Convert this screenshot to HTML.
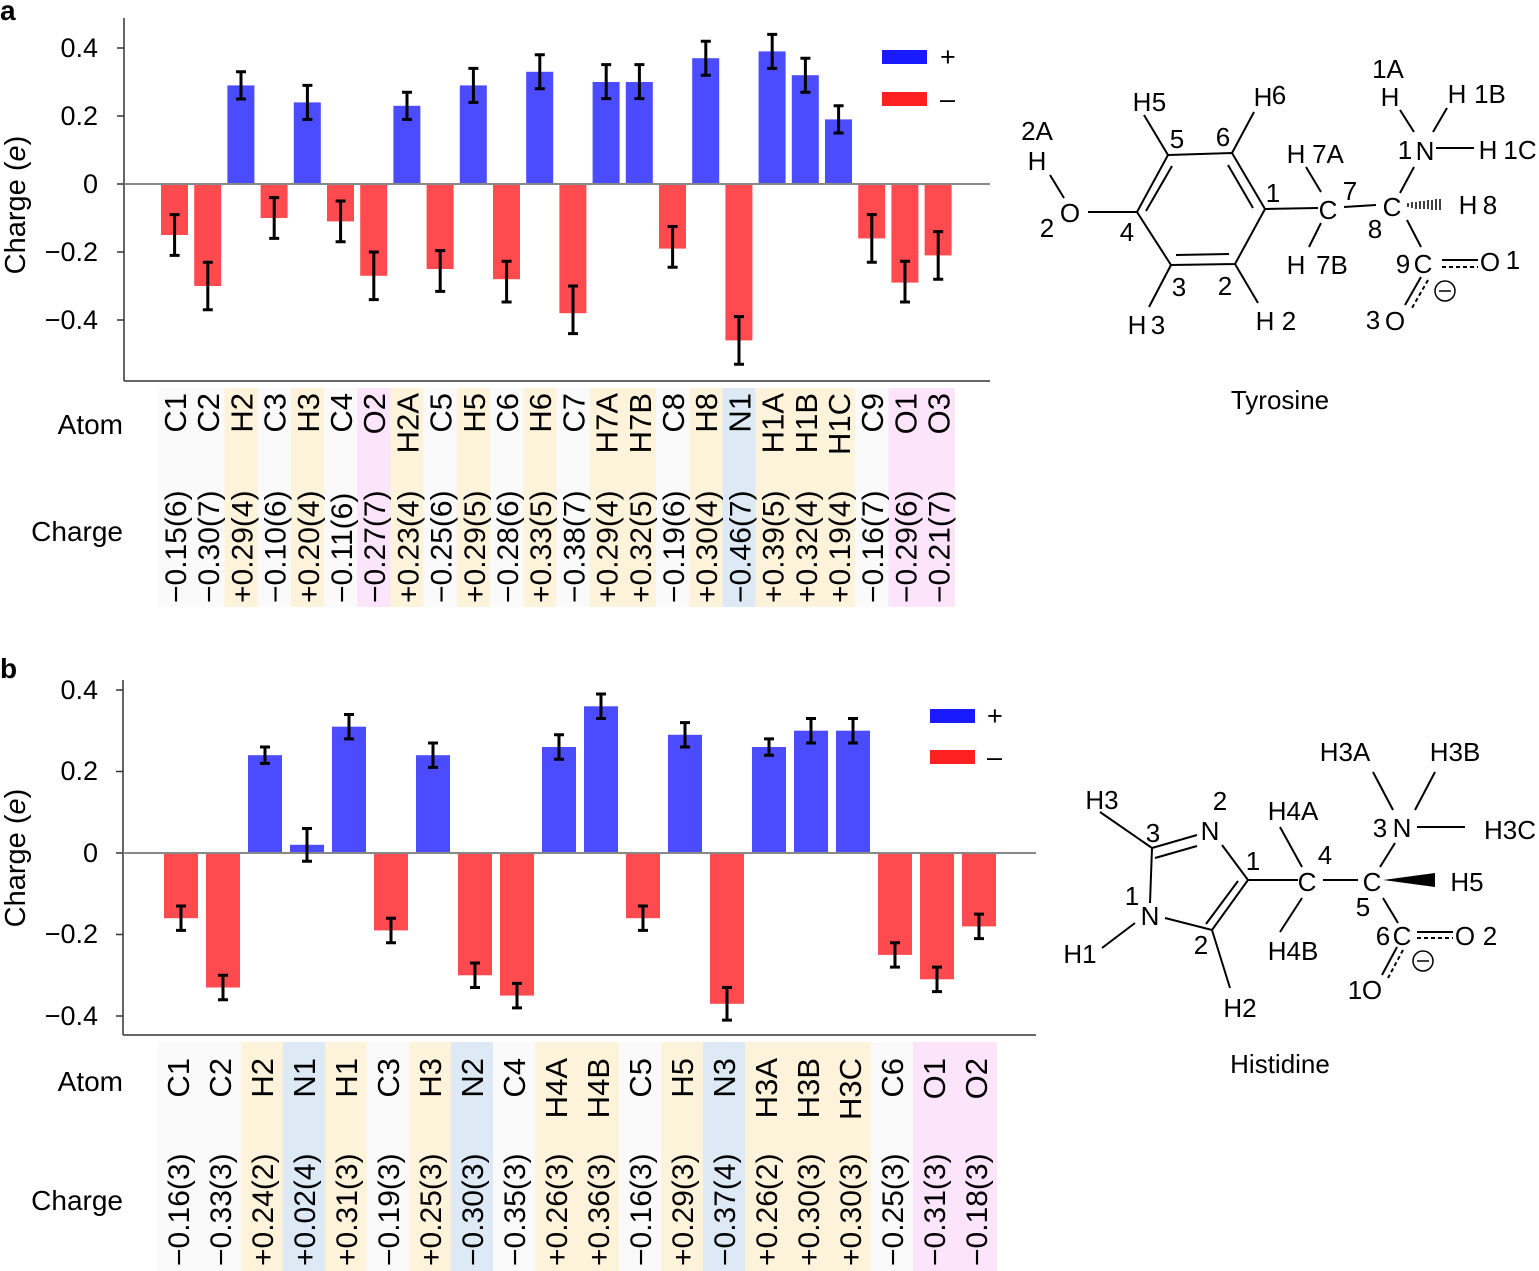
<!DOCTYPE html>
<html><head><meta charset="utf-8"><style>
html,body{margin:0;padding:0;background:#fff;}
svg{display:block;font-family:"Liberation Sans",Arial,sans-serif;}
</style></head><body>
<svg width="1539" height="1271" viewBox="0 0 1539 1271" xmlns="http://www.w3.org/2000/svg">
<text x="0" y="20" font-size="28" font-weight="bold">a</text>
<text x="0" y="678" font-size="28" font-weight="bold">b</text>

<!-- ================= PANEL A ================= -->
<g font-size="27">
<text x="15" y="205" transform="rotate(-90 15 205)" text-anchor="middle" dy="10" font-size="29">Charge (<tspan font-style="italic">e</tspan>)</text>
<g text-anchor="end">
<text x="98" y="57">0.4</text><text x="98" y="125">0.2</text><text x="98" y="193">0</text><text x="98" y="261">−0.2</text><text x="98" y="329">−0.4</text>
</g>
</g>
<g stroke="#333" stroke-width="1.5">
<line x1="124" y1="18" x2="124" y2="381"/><line x1="124" y1="381" x2="990" y2="381"/>
<line x1="117" y1="48" x2="124" y2="48"/><line x1="117" y1="116" x2="124" y2="116"/><line x1="117" y1="184" x2="124" y2="184"/><line x1="117" y1="252" x2="124" y2="252"/><line x1="117" y1="320" x2="124" y2="320"/>
</g>
<g>
<rect x="158" y="388" width="66.4" height="219" fill="#fafafa"/>
<rect x="224.4" y="388" width="33.2" height="219" fill="#fdf3da"/>
<rect x="257.6" y="388" width="33.2" height="219" fill="#fafafa"/>
<rect x="290.8" y="388" width="33.2" height="219" fill="#fdf3da"/>
<rect x="324" y="388" width="33.2" height="219" fill="#fafafa"/>
<rect x="357.2" y="388" width="33.2" height="219" fill="#fce4fb"/>
<rect x="390.4" y="388" width="33.2" height="219" fill="#fdf3da"/>
<rect x="423.6" y="388" width="33.2" height="219" fill="#fafafa"/>
<rect x="456.8" y="388" width="33.2" height="219" fill="#fdf3da"/>
<rect x="490" y="388" width="33.2" height="219" fill="#fafafa"/>
<rect x="523.2" y="388" width="33.2" height="219" fill="#fdf3da"/>
<rect x="556.4" y="388" width="33.2" height="219" fill="#fafafa"/>
<rect x="589.6" y="388" width="66.4" height="219" fill="#fdf3da"/>
<rect x="656" y="388" width="33.2" height="219" fill="#fafafa"/>
<rect x="689.2" y="388" width="33.2" height="219" fill="#fdf3da"/>
<rect x="722.4" y="388" width="33.2" height="219" fill="#dde9f5"/>
<rect x="755.6" y="388" width="99.6" height="219" fill="#fdf3da"/>
<rect x="855.2" y="388" width="33.2" height="219" fill="#fafafa"/>
<rect x="888.4" y="388" width="66.4" height="219" fill="#fce4fb"/>
</g>
<g fill="#ff4b4f">
<rect x="161" y="184" width="27" height="51"/>
<rect x="194.2" y="184" width="27" height="102"/>
<rect x="260.6" y="184" width="27" height="34"/>
<rect x="327" y="184" width="27" height="37.4"/>
<rect x="360.2" y="184" width="27" height="91.8"/>
<rect x="426.6" y="184" width="27" height="85"/>
<rect x="493" y="184" width="27" height="95.2"/>
<rect x="559.4" y="184" width="27" height="129.2"/>
<rect x="659" y="184" width="27" height="64.6"/>
<rect x="725.4" y="184" width="27" height="156.4"/>
<rect x="858.2" y="184" width="27" height="54.4"/>
<rect x="891.4" y="184" width="27" height="98.6"/>
<rect x="924.6" y="184" width="27" height="71.4"/>
</g>
<g fill="#4b4bff">
<rect x="227.4" y="85.4" width="27" height="98.6"/>
<rect x="293.8" y="102.4" width="27" height="81.6"/>
<rect x="393.4" y="105.8" width="27" height="78.2"/>
<rect x="459.8" y="85.4" width="27" height="98.6"/>
<rect x="526.2" y="71.8" width="27" height="112.2"/>
<rect x="592.6" y="82" width="27" height="102"/>
<rect x="625.8" y="82" width="27" height="102"/>
<rect x="692.2" y="58.2" width="27" height="125.8"/>
<rect x="758.6" y="51.4" width="27" height="132.6"/>
<rect x="791.8" y="75.2" width="27" height="108.8"/>
<rect x="825" y="119.4" width="27" height="64.6"/>
</g>
<line x1="124" y1="184" x2="990" y2="184" stroke="#888" stroke-width="2"/>
<g stroke="#000" stroke-width="3" fill="none">
<path d="M174.6 214.6V255.4M169.6 214.6h10M169.6 255.4h10"/>
<path d="M207.8 262.2V309.8M202.8 262.2h10M202.8 309.8h10"/>
<path d="M241 71.8V99M236 71.8h10M236 99h10"/>
<path d="M274.2 197.6V238.4M269.2 197.6h10M269.2 238.4h10"/>
<path d="M307.4 85.4V119.4M302.4 85.4h10M302.4 119.4h10"/>
<path d="M340.6 201V241.8M335.6 201h10M335.6 241.8h10"/>
<path d="M373.8 252V299.6M368.8 252h10M368.8 299.6h10"/>
<path d="M407 92.2V119.4M402 92.2h10M402 119.4h10"/>
<path d="M440.2 250.6V291.4M435.2 250.6h10M435.2 291.4h10"/>
<path d="M473.4 68.4V102.4M468.4 68.4h10M468.4 102.4h10"/>
<path d="M506.6 261.2V302M501.6 261.2h10M501.6 302h10"/>
<path d="M539.8 54.8V88.8M534.8 54.8h10M534.8 88.8h10"/>
<path d="M573 286V333.6M568 286h10M568 333.6h10"/>
<path d="M606.2 64.6V98.6M601.2 64.6h10M601.2 98.6h10"/>
<path d="M639.4 64.6V98.6M634.4 64.6h10M634.4 98.6h10"/>
<path d="M672.6 226.5V267.3M667.6 226.5h10M667.6 267.3h10"/>
<path d="M705.8 41.2V75.2M700.8 41.2h10M700.8 75.2h10"/>
<path d="M739 316.6V364.2M734 316.6h10M734 364.2h10"/>
<path d="M772.2 34.4V68.4M767.2 34.4h10M767.2 68.4h10"/>
<path d="M805.4 58.2V92.2M800.4 58.2h10M800.4 92.2h10"/>
<path d="M838.6 105.8V133M833.6 105.8h10M833.6 133h10"/>
<path d="M871.8 214.6V262.2M866.8 214.6h10M866.8 262.2h10"/>
<path d="M905 261.2V302M900 261.2h10M900 302h10"/>
<path d="M938.2 231.6V279.2M933.2 231.6h10M933.2 279.2h10"/>
</g>
<rect x="882" y="50" width="45" height="14" fill="#1a1aff"/>
<rect x="882" y="92" width="45" height="14" fill="#ff2020"/>
<text x="940" y="66" font-size="27">+</text>
<text x="940" y="108" font-size="27">–</text>
<g font-size="28">
<text x="123" y="434" text-anchor="end">Atom</text>
<text x="123" y="541" text-anchor="end">Charge</text>
</g>
<g font-size="31" text-anchor="end">
<text transform="translate(186 393) rotate(-90)">C1</text>
<text transform="translate(219.2 393) rotate(-90)">C2</text>
<text transform="translate(252.4 393) rotate(-90)">H2</text>
<text transform="translate(285.6 393) rotate(-90)">C3</text>
<text transform="translate(318.8 393) rotate(-90)">H3</text>
<text transform="translate(352 393) rotate(-90)">C4</text>
<text transform="translate(385.2 393) rotate(-90)">O2</text>
<text transform="translate(418.4 393) rotate(-90)">H2A</text>
<text transform="translate(451.6 393) rotate(-90)">C5</text>
<text transform="translate(484.8 393) rotate(-90)">H5</text>
<text transform="translate(518 393) rotate(-90)">C6</text>
<text transform="translate(551.2 393) rotate(-90)">H6</text>
<text transform="translate(584.4 393) rotate(-90)">C7</text>
<text transform="translate(617.6 393) rotate(-90)">H7A</text>
<text transform="translate(650.8 393) rotate(-90)">H7B</text>
<text transform="translate(684 393) rotate(-90)">C8</text>
<text transform="translate(717.2 393) rotate(-90)">H8</text>
<text transform="translate(750.4 393) rotate(-90)">N1</text>
<text transform="translate(783.6 393) rotate(-90)">H1A</text>
<text transform="translate(816.8 393) rotate(-90)">H1B</text>
<text transform="translate(850 393) rotate(-90)">H1C</text>
<text transform="translate(883.2 393) rotate(-90)">C9</text>
<text transform="translate(916.4 393) rotate(-90)">O1</text>
<text transform="translate(949.6 393) rotate(-90)">O3</text>
</g>
<g font-size="30">
<text transform="translate(186 603) rotate(-90)">−0.15(6)</text>
<text transform="translate(219.2 603) rotate(-90)">−0.30(7)</text>
<text transform="translate(252.4 603) rotate(-90)">+0.29(4)</text>
<text transform="translate(285.6 603) rotate(-90)">−0.10(6)</text>
<text transform="translate(318.8 603) rotate(-90)">+0.20(4)</text>
<text transform="translate(352 603) rotate(-90)">−0.11(6)</text>
<text transform="translate(385.2 603) rotate(-90)">−0.27(7)</text>
<text transform="translate(418.4 603) rotate(-90)">+0.23(4)</text>
<text transform="translate(451.6 603) rotate(-90)">−0.25(6)</text>
<text transform="translate(484.8 603) rotate(-90)">+0.29(5)</text>
<text transform="translate(518 603) rotate(-90)">−0.28(6)</text>
<text transform="translate(551.2 603) rotate(-90)">+0.33(5)</text>
<text transform="translate(584.4 603) rotate(-90)">−0.38(7)</text>
<text transform="translate(617.6 603) rotate(-90)">+0.29(4)</text>
<text transform="translate(650.8 603) rotate(-90)">+0.32(5)</text>
<text transform="translate(684 603) rotate(-90)">−0.19(6)</text>
<text transform="translate(717.2 603) rotate(-90)">+0.30(4)</text>
<text transform="translate(750.4 603) rotate(-90)">−0.46(7)</text>
<text transform="translate(783.6 603) rotate(-90)">+0.39(5)</text>
<text transform="translate(816.8 603) rotate(-90)">+0.32(4)</text>
<text transform="translate(850 603) rotate(-90)">+0.19(4)</text>
<text transform="translate(883.2 603) rotate(-90)">−0.16(7)</text>
<text transform="translate(916.4 603) rotate(-90)">−0.29(6)</text>
<text transform="translate(949.6 603) rotate(-90)">−0.21(7)</text>
</g>

<!-- Tyrosine structure -->
<g stroke="#000" stroke-width="2" fill="none">
<path d="M1168 155L1232 153L1265 209L1235 264L1171 265L1137 212Z"/>
<path d="M1172 166L1146 211M1228 165L1253 208M1176 255L1229 254"/>
<path d="M1050 175L1064 198M1088 212L1137 212M1144 115L1168 155M1254 112L1232 153M1149 307L1171 265M1258 303L1235 264"/>
<path d="M1265 209L1318 208M1344 207L1376 205M1306 167L1321 192M1321 223L1309 247"/>
<path d="M1414 167L1400 193M1436 148L1474 148M1400 110L1414 132M1447 108L1433 132"/>
<path d="M1407 220L1421 247M1442 260L1478 260M1421 277L1405 305"/>
<path d="M1442 267L1478 267M1428 280L1412 308" stroke-dasharray="4 3"/>
<circle cx="1445" cy="291" r="10" stroke-width="1.5"/>
<path d="M1439 291h12" stroke-width="1.5"/>
</g>
<g stroke="#000" stroke-width="1.5">
<path d="M1408 203v4M1412 202v6M1416 202v7M1420 201v8M1424 201v8M1428 200v9M1432 200v10M1436 199v11M1440 199v11"/>
</g>
<g font-size="26" text-anchor="middle">
<text x="1037" y="140">2A</text><text x="1037" y="170">H</text>
<text x="1047" y="237">2</text><text x="1070" y="222">O</text>
<text x="1127" y="241">4</text>
<text x="1142" y="111">H</text><text x="1159" y="111">5</text>
<text x="1177" y="148">5</text><text x="1223" y="146">6</text>
<text x="1263" y="106">H</text><text x="1279" y="104">6</text>
<text x="1273" y="202">1</text>
<text x="1179" y="296">3</text><text x="1225" y="295">2</text>
<text x="1137" y="334">H</text><text x="1158" y="334">3</text>
<text x="1265" y="330">H</text><text x="1289" y="330">2</text>
<text x="1296" y="163">H</text><text x="1328" y="163">7A</text>
<text x="1328" y="219">C</text><text x="1350" y="200">7</text>
<text x="1296" y="274">H</text><text x="1332" y="274">7B</text>
<text x="1392" y="216">C</text><text x="1375" y="238">8</text>
<text x="1468" y="214">H</text><text x="1490" y="214">8</text>
<text x="1405" y="159">1</text><text x="1425" y="160">N</text>
<text x="1388" y="78">1A</text><text x="1390" y="106">H</text>
<text x="1457" y="103">H</text><text x="1490" y="103">1B</text>
<text x="1488" y="159">H</text><text x="1520" y="159">1C</text>
<text x="1403" y="273">9</text><text x="1423" y="273">C</text>
<text x="1490" y="271">O</text><text x="1513" y="269">1</text>
<text x="1373" y="329">3</text><text x="1395" y="330">O</text>
<text x="1280" y="409">Tyrosine</text>
</g>

<!-- ================= PANEL B ================= -->
<g font-size="27">
<text x="15" y="858" transform="rotate(-90 15 858)" text-anchor="middle" dy="10" font-size="29">Charge (<tspan font-style="italic">e</tspan>)</text>
<g text-anchor="end">
<text x="98" y="699">0.4</text><text x="98" y="780">0.2</text><text x="98" y="862">0</text><text x="98" y="943">−0.2</text><text x="98" y="1025">−0.4</text>
</g>
</g>
<g stroke="#333" stroke-width="1.5">
<line x1="123" y1="680" x2="123" y2="1035"/><line x1="123" y1="1035" x2="1036" y2="1035"/>
<line x1="116" y1="690" x2="123" y2="690"/><line x1="116" y1="771.5" x2="123" y2="771.5"/><line x1="116" y1="853" x2="123" y2="853"/><line x1="116" y1="934.5" x2="123" y2="934.5"/><line x1="116" y1="1016" x2="123" y2="1016"/>
</g>
<g>
<rect x="157" y="1042" width="84" height="229" fill="#fafafa"/>
<rect x="241" y="1042" width="42" height="229" fill="#fdf3da"/>
<rect x="283" y="1042" width="42" height="229" fill="#dde9f5"/>
<rect x="325" y="1042" width="42" height="229" fill="#fdf3da"/>
<rect x="367" y="1042" width="42" height="229" fill="#fafafa"/>
<rect x="409" y="1042" width="42" height="229" fill="#fdf3da"/>
<rect x="451" y="1042" width="42" height="229" fill="#dde9f5"/>
<rect x="493" y="1042" width="42" height="229" fill="#fafafa"/>
<rect x="535" y="1042" width="84" height="229" fill="#fdf3da"/>
<rect x="619" y="1042" width="42" height="229" fill="#fafafa"/>
<rect x="661" y="1042" width="42" height="229" fill="#fdf3da"/>
<rect x="703" y="1042" width="42" height="229" fill="#dde9f5"/>
<rect x="745" y="1042" width="126" height="229" fill="#fdf3da"/>
<rect x="871" y="1042" width="42" height="229" fill="#fafafa"/>
<rect x="913" y="1042" width="84" height="229" fill="#fce4fb"/>
</g>
<g fill="#ff4b4f">
<rect x="164" y="853" width="34" height="65.2"/>
<rect x="206" y="853" width="34" height="134.5"/>
<rect x="374" y="853" width="34" height="77.4"/>
<rect x="458" y="853" width="34" height="122.3"/>
<rect x="500" y="853" width="34" height="142.6"/>
<rect x="626" y="853" width="34" height="65.2"/>
<rect x="710" y="853" width="34" height="150.8"/>
<rect x="878" y="853" width="34" height="101.9"/>
<rect x="920" y="853" width="34" height="126.3"/>
<rect x="962" y="853" width="34" height="73.4"/>
</g>
<g fill="#4b4bff">
<rect x="248" y="755.2" width="34" height="97.8"/>
<rect x="290" y="844.8" width="34" height="8.2"/>
<rect x="332" y="726.7" width="34" height="126.3"/>
<rect x="416" y="755.2" width="34" height="97.8"/>
<rect x="542" y="747" width="34" height="106"/>
<rect x="584" y="706.3" width="34" height="146.7"/>
<rect x="668" y="734.8" width="34" height="118.2"/>
<rect x="752" y="747" width="34" height="106"/>
<rect x="794" y="730.7" width="34" height="122.3"/>
<rect x="836" y="730.7" width="34" height="122.3"/>
</g>
<line x1="123" y1="853" x2="1036" y2="853" stroke="#888" stroke-width="2"/>
<g stroke="#000" stroke-width="3" fill="none">
<path d="M181 906V930.4M176 906h10M176 930.4h10"/>
<path d="M223 975.3V999.7M218 975.3h10M218 999.7h10"/>
<path d="M265 747V763.4M260 747h10M260 763.4h10"/>
<path d="M307 828.5V861.2M302 828.5h10M302 861.2h10"/>
<path d="M349 714.5V738.9M344 714.5h10M344 738.9h10"/>
<path d="M391 918.2V942.7M386 918.2h10M386 942.7h10"/>
<path d="M433 743V767.4M428 743h10M428 767.4h10"/>
<path d="M475 963V987.5M470 963h10M470 987.5h10"/>
<path d="M517 983.4V1007.9M512 983.4h10M512 1007.9h10"/>
<path d="M559 734.8V759.3M554 734.8h10M554 759.3h10"/>
<path d="M601 694V718.5M596 694h10M596 718.5h10"/>
<path d="M643 906V930.4M638 906h10M638 930.4h10"/>
<path d="M685 722.6V747M680 722.6h10M680 747h10"/>
<path d="M727 987.5V1020.1M722 987.5h10M722 1020.1h10"/>
<path d="M769 738.9V755.2M764 738.9h10M764 755.2h10"/>
<path d="M811 718.5V743M806 718.5h10M806 743h10"/>
<path d="M853 718.5V743M848 718.5h10M848 743h10"/>
<path d="M895 942.7V967.1M890 942.7h10M890 967.1h10"/>
<path d="M937 967.1V991.6M932 967.1h10M932 991.6h10"/>
<path d="M979 914.1V938.6M974 914.1h10M974 938.6h10"/>
</g>
<rect x="930" y="709" width="45" height="14" fill="#1a1aff"/>
<rect x="930" y="750" width="45" height="14" fill="#ff2020"/>
<text x="987" y="725" font-size="27">+</text>
<text x="987" y="766" font-size="27">–</text>
<g font-size="28">
<text x="123" y="1091" text-anchor="end">Atom</text>
<text x="123" y="1210" text-anchor="end">Charge</text>
</g>
<g font-size="31" text-anchor="end">
<text transform="translate(189 1058) rotate(-90)">C1</text>
<text transform="translate(231 1058) rotate(-90)">C2</text>
<text transform="translate(273 1058) rotate(-90)">H2</text>
<text transform="translate(315 1058) rotate(-90)">N1</text>
<text transform="translate(357 1058) rotate(-90)">H1</text>
<text transform="translate(399 1058) rotate(-90)">C3</text>
<text transform="translate(441 1058) rotate(-90)">H3</text>
<text transform="translate(483 1058) rotate(-90)">N2</text>
<text transform="translate(525 1058) rotate(-90)">C4</text>
<text transform="translate(567 1058) rotate(-90)">H4A</text>
<text transform="translate(609 1058) rotate(-90)">H4B</text>
<text transform="translate(651 1058) rotate(-90)">C5</text>
<text transform="translate(693 1058) rotate(-90)">H5</text>
<text transform="translate(735 1058) rotate(-90)">N3</text>
<text transform="translate(777 1058) rotate(-90)">H3A</text>
<text transform="translate(819 1058) rotate(-90)">H3B</text>
<text transform="translate(861 1058) rotate(-90)">H3C</text>
<text transform="translate(903 1058) rotate(-90)">C6</text>
<text transform="translate(945 1058) rotate(-90)">O1</text>
<text transform="translate(987 1058) rotate(-90)">O2</text>
</g>
<g font-size="30">
<text transform="translate(189 1266) rotate(-90)">−0.16(3)</text>
<text transform="translate(231 1266) rotate(-90)">−0.33(3)</text>
<text transform="translate(273 1266) rotate(-90)">+0.24(2)</text>
<text transform="translate(315 1266) rotate(-90)">+0.02(4)</text>
<text transform="translate(357 1266) rotate(-90)">+0.31(3)</text>
<text transform="translate(399 1266) rotate(-90)">−0.19(3)</text>
<text transform="translate(441 1266) rotate(-90)">+0.25(3)</text>
<text transform="translate(483 1266) rotate(-90)">−0.30(3)</text>
<text transform="translate(525 1266) rotate(-90)">−0.35(3)</text>
<text transform="translate(567 1266) rotate(-90)">+0.26(3)</text>
<text transform="translate(609 1266) rotate(-90)">+0.36(3)</text>
<text transform="translate(651 1266) rotate(-90)">−0.16(3)</text>
<text transform="translate(693 1266) rotate(-90)">+0.29(3)</text>
<text transform="translate(735 1266) rotate(-90)">−0.37(4)</text>
<text transform="translate(777 1266) rotate(-90)">+0.26(2)</text>
<text transform="translate(819 1266) rotate(-90)">+0.30(3)</text>
<text transform="translate(861 1266) rotate(-90)">+0.30(3)</text>
<text transform="translate(903 1266) rotate(-90)">−0.25(3)</text>
<text transform="translate(945 1266) rotate(-90)">−0.31(3)</text>
<text transform="translate(987 1266) rotate(-90)">−0.18(3)</text>
</g>

<!-- Histidine structure -->
<g stroke="#000" stroke-width="2" fill="none">
<path d="M1152 848L1197 835M1155 858L1197 846M1222 845L1248 880L1212 930L1165 918M1238 881L1206 924M1150 903L1152 848"/>
<path d="M1135 923L1102 948M1152 848L1100 812M1212 930L1230 988"/>
<path d="M1248 880L1298 880M1280 827L1302 867M1302 898L1280 932M1323 880L1358 880"/>
<path d="M1380 867L1395 843M1393 810L1373 772M1415 810L1435 772M1417 827L1465 827"/>
<path d="M1383 898L1398 923M1417 932L1453 932M1397 947L1382 975"/>
<path d="M1417 938L1453 938M1403 950L1388 978" stroke-dasharray="4 3"/>
<circle cx="1423" cy="961" r="10" stroke-width="1.5"/>
<path d="M1417 961h12" stroke-width="1.5"/>
</g>
<path d="M1383 880L1435 873L1435 887Z" fill="#000"/>
<g font-size="26" text-anchor="middle">
<text x="1102" y="809">H3</text>
<text x="1153" y="842">3</text><text x="1220" y="810">2</text>
<text x="1210" y="840">N</text>
<text x="1253" y="870">1</text>
<text x="1132" y="905">1</text><text x="1150" y="925">N</text>
<text x="1080" y="963">H1</text>
<text x="1201" y="954">2</text>
<text x="1240" y="1017">H2</text>
<text x="1307" y="891">C</text><text x="1325" y="864">4</text>
<text x="1293" y="820">H4A</text><text x="1293" y="960">H4B</text>
<text x="1372" y="891">C</text><text x="1363" y="916">5</text>
<text x="1467" y="891">H5</text>
<text x="1380" y="837">3</text><text x="1402" y="837">N</text>
<text x="1345" y="761">H3A</text><text x="1455" y="761">H3B</text><text x="1510" y="839">H3C</text>
<text x="1383" y="945">6</text><text x="1402" y="945">C</text>
<text x="1465" y="945">O</text><text x="1490" y="945">2</text>
<text x="1355" y="999">1</text><text x="1372" y="999">O</text>
<text x="1280" y="1073">Histidine</text>
</g>
</svg>
</body></html>
